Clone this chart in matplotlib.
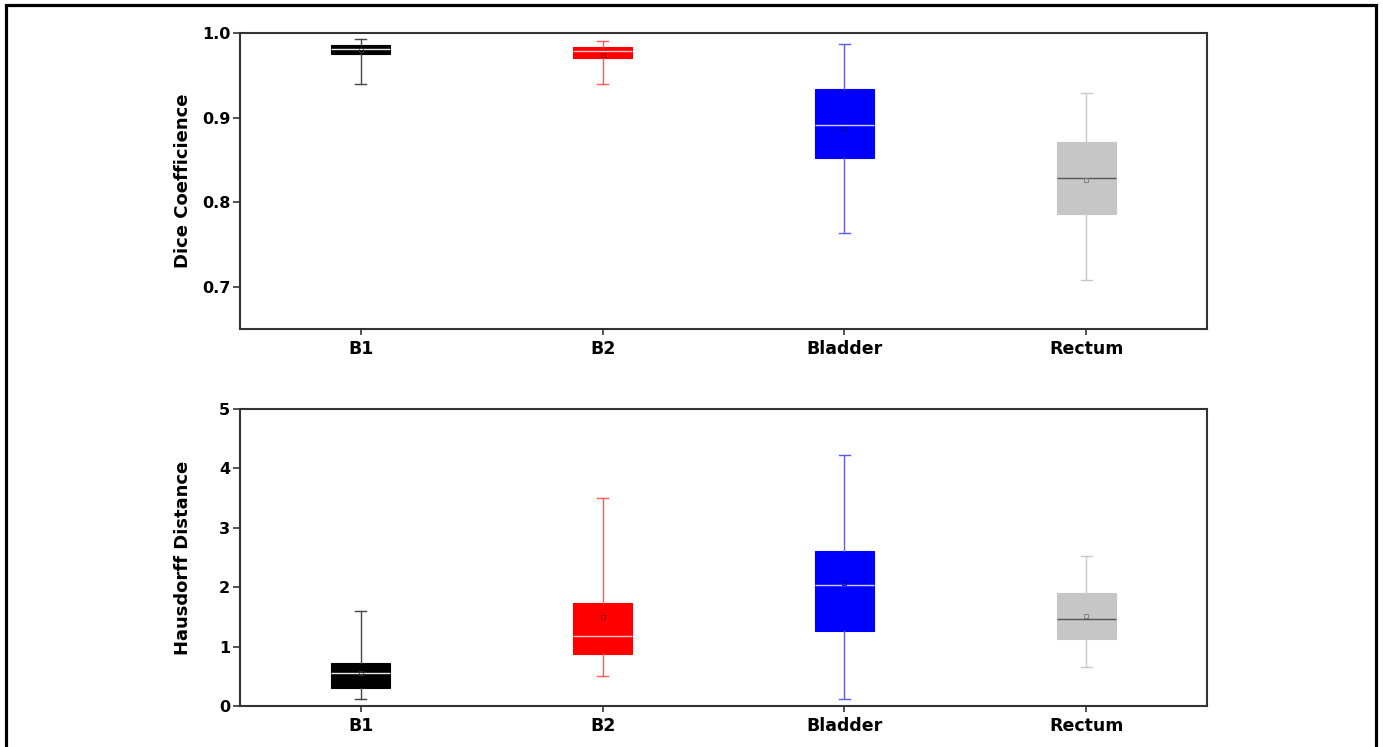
import matplotlib
matplotlib.use("Agg")
import matplotlib.pyplot as plt
from matplotlib.patches import Rectangle

plt.rcParams["font.family"] = ["DejaVu Sans"]

categories = ["B1", "B2", "Bladder", "Rectum"]
colors = ["#000000", "#ff0000", "#0000ff", "#c6c6c6"]
whisker_colors = ["#444444", "#ff5a5a", "#5a5aff", "#c8c8c8"]
median_colors = ["#e8e8e8", "#ffc8c8", "#d0d0ff", "#555555"]
mean_colors = ["#333333", "#8a0000", "#00008a", "#777777"]

# Dice coefficient: whislo, q1, med, mean, q3, whishi
dice_lo = [0.940, 0.940, 0.764, 0.708]
dice_q1 = [0.975, 0.970, 0.852, 0.786]
dice_med = [0.981, 0.979, 0.891, 0.829]
dice_mean = [0.980, 0.974, 0.887, 0.826]
dice_q3 = [0.986, 0.983, 0.934, 0.871]
dice_hi = [0.993, 0.990, 0.987, 0.929]

# Hausdorff distance
hd_lo = [0.11, 0.50, 0.11, 0.66]
hd_q1 = [0.31, 0.87, 1.27, 1.13]
hd_med = [0.56, 1.18, 2.03, 1.47]
hd_mean = [0.55, 1.49, 2.07, 1.52]
hd_q3 = [0.73, 1.74, 2.61, 1.90]
hd_hi = [1.60, 3.51, 4.23, 2.52]


def make_stats(lo, q1, med, mean, q3, hi):
    return [dict(whislo=a, q1=b, med=c, mean=d, q3=e, whishi=f, fliers=[])
            for a, b, c, d, e, f in zip(lo, q1, med, mean, q3, hi)]


def draw(ax, stats, ylabel, ylim, yticks, yticklabels):
    for i, st in enumerate(stats):
        ax.bxp([st], positions=[i + 1], widths=0.245, patch_artist=True,
               showmeans=True, showfliers=False,
               boxprops=dict(facecolor=colors[i], edgecolor=colors[i], linewidth=0.8),
               whiskerprops=dict(color=whisker_colors[i], linewidth=1.0),
               capprops=dict(color=whisker_colors[i], linewidth=1.0),
               capwidths=0.045,
               medianprops=dict(color=median_colors[i], linewidth=1.0),
               meanprops=dict(marker="s", markersize=3.5, markerfacecolor="none",
                              markeredgecolor=mean_colors[i], markeredgewidth=0.6))
    ax.set_xlim(0.5, 4.5)
    ax.set_ylim(*ylim)
    ax.set_xticks(range(1, 5))
    ax.set_xticklabels(categories, fontsize=12.5, fontweight="bold")
    ax.set_yticks(yticks)
    ax.set_yticklabels(yticklabels, fontsize=11.5, fontweight="bold")
    ax.set_ylabel(ylabel, fontsize=13, fontweight="bold", va="center")
    ax.yaxis.set_label_coords(-57 / 967, 0.5)
    ax.tick_params(axis="y", direction="out", length=5, width=1.2, color="#333333", pad=2)
    ax.tick_params(axis="x", direction="out", length=4, width=1.2, color="#333333", pad=4)
    for s in ax.spines.values():
        s.set_linewidth(1.5)
        s.set_color("#333333")


fig = plt.figure(figsize=(13.83, 7.47), dpi=100)
ax1 = fig.add_axes([240 / 1383, 1 - 329 / 747, 967 / 1383, 296 / 747])
ax2 = fig.add_axes([240 / 1383, 1 - 706 / 747, 967 / 1383, 297 / 747])

draw(ax1, make_stats(dice_lo, dice_q1, dice_med, dice_mean, dice_q3, dice_hi),
     "Dice Coefficience", (0.65, 1.0), [0.7, 0.8, 0.9, 1.0],
     ["0.7", "0.8", "0.9", "1.0"])
draw(ax2, make_stats(hd_lo, hd_q1, hd_med, hd_mean, hd_q3, hd_hi),
     "Hausdorff Distance", (0, 5), [0, 1, 2, 3, 4, 5],
     ["0", "1", "2", "3", "4", "5"])

fig.patches.append(Rectangle((6 / 1383, -0.05), 1370 / 1383, 1.05 - 5 / 747,
                             transform=fig.transFigure, fill=False,
                             edgecolor="black", linewidth=2.3))

fig.savefig("out.png", dpi=100)
